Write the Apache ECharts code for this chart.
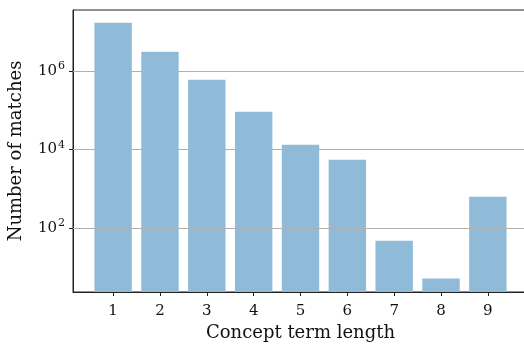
<!DOCTYPE html>
<html>
<head>
<meta charset="utf-8">
<script src="https://cdn.jsdelivr.net/npm/echarts@6/dist/echarts.min.js"></script>
<style>
html,body{margin:0;padding:0;background:#fff;}
#c{width:524px;height:344px;}
</style>
</head>
<body>
<div id="c"></div>
<script>
// Data
var termLengths = [1, 2, 3, 4, 5, 6, 7, 8, 9];
var matchCounts = [1.69e7, 3.08e6, 5.97e5, 9.2e4, 1.32e4, 5.5e3, 48, 5.2, 630];
var yTickValues = [1e2, 1e4, 1e6];
var xTickValues = [1, 2, 3, 4, 5, 6, 7, 8, 9];

var FONT = '"DejaVu Serif", serif';
var chart = echarts.init(document.getElementById('c'), null, {renderer: 'canvas'});

var seriesData = termLengths.map(function (x, i) { return [x, matchCounts[i]]; });

chart.setOption({
  animation: false,
  backgroundColor: '#fff',
  grid: {
    left: 73, top: 10, width: 455, height: 282,
    show: true, borderColor: '#222', borderWidth: 1, backgroundColor: 'transparent',
    containLabel: false,
    outerBoundsMode: 'none'
  },
  xAxis: {
    type: 'value',
    min: 0.143, max: 9.857,
    splitLine: {show: false},
    axisLine: {show: true, lineStyle: {color: '#222', width: 1}},
    axisTick: {show: true, customValues: xTickValues, length: 4, lineStyle: {color: '#222'}},
    axisLabel: {customValues: xTickValues, color: '#111', fontFamily: FONT, fontSize: 15, margin: 12},
    name: 'Concept term length',
    nameLocation: 'middle',
    nameGap: 30,
    nameTextStyle: {color: '#111', fontFamily: FONT, fontSize: 18}
  },
  yAxis: {
    type: 'log',
    logBase: 10,
    min: 2.37, max: 3.55e7,
    splitLine: {show: false},
    minorTick: {show: false},
    axisLine: {show: true, lineStyle: {color: '#222', width: 1}},
    axisTick: {show: true, customValues: yTickValues, length: 4, lineStyle: {color: '#222'}},
    axisLabel: {
      customValues: yTickValues,
      margin: 8,
      formatter: function (v) {
        var e = Math.round(Math.log10(v));
        return '{b|10}{s|' + e + '}';
      },
      rich: {
        b: {color: '#111', fontFamily: FONT, fontSize: 15},
        s: {color: '#111', fontFamily: FONT, fontSize: 11, padding: [0, 0, 9, 1]}
      }
    },
    name: 'Number of matches',
    nameLocation: 'middle',
    nameGap: 48,
    nameTextStyle: {color: '#111', fontFamily: FONT, fontSize: 18}
  },
  series: [{
    type: 'bar',
    data: seriesData,
    barWidth: 37.4,
    itemStyle: {color: '#8fbbd9'},
    markLine: {
      silent: true,
      symbol: ['none', 'none'],
      label: {show: false},
      lineStyle: {color: '#b0b0b0', type: 'solid', width: 1},
      data: yTickValues.map(function (v) { return {yAxis: v}; })
    }
  }]
});
</script>
</body>
</html>
